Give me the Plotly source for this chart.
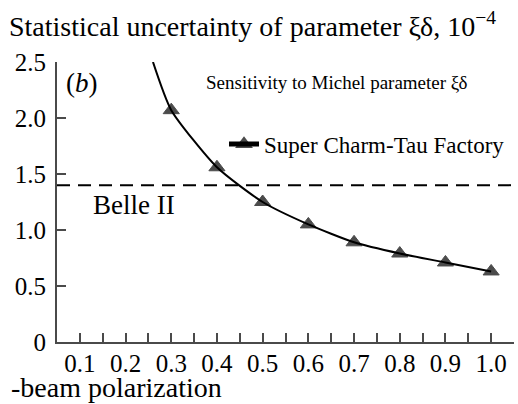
import plotly.graph_objects as go

# Beam polarization values and statistical uncertainty of xi*delta (units of 1e-4)
polarization = [0.26, 0.3, 0.4, 0.5, 0.6, 0.7, 0.8, 0.9, 1.0]
uncertainty = [2.5, 2.07, 1.56, 1.25, 1.05, 0.89, 0.79, 0.71, 0.63]
# the first curve point has no marker (curve leaves the frame there)
marker_sizes = [0, 14, 14, 14, 14, 14, 14, 14, 14]

belle2_level = 1.4
x_range = [0.05, 1.05]
y_range = [0, 2.5]
x_tickvals = [0.1, 0.2, 0.3, 0.4, 0.5, 0.6, 0.7, 0.8, 0.9, 1.0]
x_ticktext = ["0.1", "0.2", "0.3", "0.4", "0.5", "0.6", "0.7", "0.8", "0.9", "1.0"]
x_minor = [0.15, 0.25, 0.35, 0.45, 0.55, 0.65, 0.75, 0.85, 0.95, 1.05]
y_tickvals = [0, 0.5, 1.0, 1.5, 2.0, 2.5]
y_ticktext = ["0", "0.5", "1.0", "1.5", "2.0", "2.5"]

SERIF = "Liberation Serif"
AXIS_COLOR = "#4a4a4a"

fig = go.Figure()

fig.add_trace(go.Scatter(
    x=polarization, y=uncertainty,
    mode="lines+markers",
    name="Super Charm-Tau Factory",
    line=dict(color="black", width=2, shape="spline", smoothing=0.6),
    marker=dict(symbol="triangle-up", size=marker_sizes, color="black",
                line=dict(color="black", width=1)),
    cliponaxis=False,
))

fig.add_shape(
    type="line", xref="x", yref="y",
    x0=x_range[0], x1=x_range[1], y0=belle2_level, y1=belle2_level,
    line=dict(color="black", width=2, dash="13px,8px"),
)

w, h = 518, 404
ml, mr, mt, mb = 57, 4, 62, 62
pw, ph = w - ml - mr, h - mt - mb

def px_x(p):
    return (p - ml) / pw

def px_y(p):
    return (h - mb - p) / ph

fig.update_layout(
    width=w, height=h,
    margin=dict(l=ml, r=mr, t=mt, b=mb),
    paper_bgcolor="white", plot_bgcolor="white",
    font=dict(family=SERIF, color="black", size=22),
    showlegend=True,
    legend=dict(
        x=px_x(224), y=px_y(144), xanchor="left", yanchor="middle",
        bgcolor="rgba(0,0,0,0)", borderwidth=0,
        font=dict(size=23, family=SERIF),
        itemsizing="constant",
    ),
    xaxis=dict(
        range=x_range, showgrid=False, zeroline=False,
        showline=True, linecolor=AXIS_COLOR, linewidth=2,
        tickmode="array", tickvals=x_tickvals, ticktext=x_ticktext,
        ticks="inside", ticklen=9, tickwidth=1.5, tickcolor=AXIS_COLOR,
        tickfont=dict(size=25, family=SERIF),
        ticklabelstandoff=-2,
        minor=dict(tickmode="array", tickvals=x_minor, ticks="inside",
                   ticklen=9, tickwidth=1.5, tickcolor=AXIS_COLOR),
    ),
    yaxis=dict(
        range=y_range, showgrid=False, zeroline=False,
        showline=True, linecolor=AXIS_COLOR, linewidth=2,
        tickmode="array", tickvals=y_tickvals, ticktext=y_ticktext,
        ticks="inside", ticklen=9, tickwidth=1.5, tickcolor=AXIS_COLOR,
        tickfont=dict(size=25, family=SERIF),
        ticklabelstandoff=4,
    ),
)

annotations = [
    dict(text="Statistical uncertainty of parameter ξδ, 10<sup>−4</sup>",
         x=px_x(7), y=px_y(24), xanchor="left", yanchor="middle",
         font=dict(size=28)),
    dict(text="(<i>b</i>)", x=px_x(64), y=px_y(83), xanchor="left",
         yanchor="middle", font=dict(size=27)),
    dict(text="Sensitivity to Michel parameter ξδ", x=px_x(204), y=px_y(83),
         xanchor="left", yanchor="middle", font=dict(size=19)),
    dict(text="Belle II", x=px_x(91), y=px_y(205), xanchor="left",
         yanchor="middle", font=dict(size=27)),
    dict(text="-beam polarization", x=px_x(9), y=px_y(387), xanchor="left",
         yanchor="middle", font=dict(size=28)),
]
for a in annotations:
    a.update(xref="paper", yref="paper", showarrow=False)
fig.update_layout(annotations=annotations)

fig.write_html("out.html")
